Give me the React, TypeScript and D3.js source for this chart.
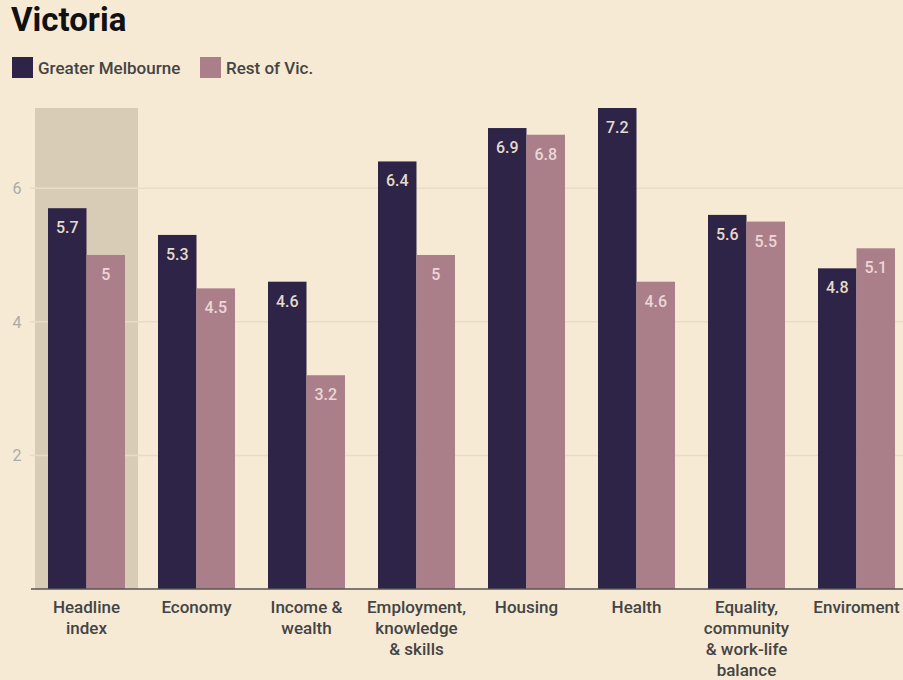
import React from "react";
import * as d3 from "d3";

const categories = [
  ["Headline", "index"],
  ["Economy"],
  ["Income &", "wealth"],
  ["Employment,", "knowledge", "& skills"],
  ["Housing"],
  ["Health"],
  ["Equality,", "community", "& work-life", "balance"],
  ["Enviroment"],
];
const seriesNames = ["Greater Melbourne", "Rest of Vic."];
const melbourne = [5.7, 5.3, 4.6, 6.4, 6.9, 7.2, 5.6, 4.8];
const restOfVic = [5, 4.5, 3.2, 5, 6.8, 4.6, 5.5, 5.1];
const yTicks = [2, 4, 6];

const W = 903;
const H = 680;
const BG = "#f6ead5";
const DARK = "#2e2447";
const PINK = "#ab7f8a";
const HIGHLIGHT = "#d8ccb6";

export default function App() {
  const keys = categories.map((_, i) => String(i));
  const x0 = d3
    .scaleBand<string>()
    .domain(keys)
    .range([31.5, 911.5])
    .paddingInner(0.3)
    .paddingOuter(0.15);
  const x1 = d3
    .scaleBand<string>()
    .domain(["0", "1"])
    .range([0, x0.bandwidth()])
    .padding(0);
  const y = d3.scaleLinear().domain([0, 7.2]).range([589, 108]);
  const series = [melbourne, restOfVic];
  const colors = [DARK, PINK];
  const labelColors = ["#e4dbcc", "#ecd6d6"];

  return (
    <div style={{ position: "fixed", left: 0, top: 0 }}>
      <svg width={W} height={H} style={{ display: "block", fontFamily: "Roboto, sans-serif" }}>
        <rect x={0} y={0} width={W} height={H} fill={BG} />
        <text x={11} y={31} fontSize={33} fontWeight={700} fill="#111">
          Victoria
        </text>
        {seriesNames.map((n, i) => {
          const lx = i === 0 ? 12 : 200;
          return (
            <g key={n}>
              <rect x={lx} y={57} width={21} height={21} fill={colors[i]} />
              <text x={lx + 26} y={74} fontSize={17} fontWeight={500} fill="#444">
                {n}
              </text>
            </g>
          );
        })}
        {/* highlight box for headline index */}
        <rect
          x={x0("0")! - 13}
          y={y(7.2)}
          width={x0.bandwidth() + 26}
          height={y(0) - y(7.2)}
          fill={HIGHLIGHT}
        />
        {yTicks.map((t) => (
          <g key={t}>
            <line x1={30} x2={W} y1={y(t)} y2={y(t)} stroke="#e9dcc5" strokeWidth={1.5} />
            <text x={17} y={y(t) + 6} fontSize={16} fill="#aaa" textAnchor="middle">
              {t}
            </text>
          </g>
        ))}
        {keys.map((k, ci) => (
          <g key={k} transform={`translate(${x0(k)},0)`}>
            {series.map((s, si) => {
              const v = s[ci];
              const bx = x1(String(si))!;
              const bw = x1.bandwidth();
              return (
                <g key={si}>
                  <rect x={bx} y={y(v)} width={bw} height={y(0) - y(v)} fill={colors[si]} />
                  <text
                    x={bx + bw / 2}
                    y={y(v) + 25}
                    fontSize={16}
                    fontWeight={500}
                    textAnchor="middle"
                    fill={labelColors[si]}
                  >
                    {v}
                  </text>
                </g>
              );
            })}
            {categories[ci].map((line, li) => (
              <text
                key={li}
                x={x0.bandwidth() / 2}
                y={613 + li * 21}
                fontSize={17}
                fontWeight={500}
                textAnchor="middle"
                fill="#444"
              >
                {line}
              </text>
            ))}
          </g>
        ))}
        <line x1={31} x2={W} y1={y(0)} y2={y(0)} stroke="#555" strokeWidth={1.5} />
      </svg>
    </div>
  );
}
